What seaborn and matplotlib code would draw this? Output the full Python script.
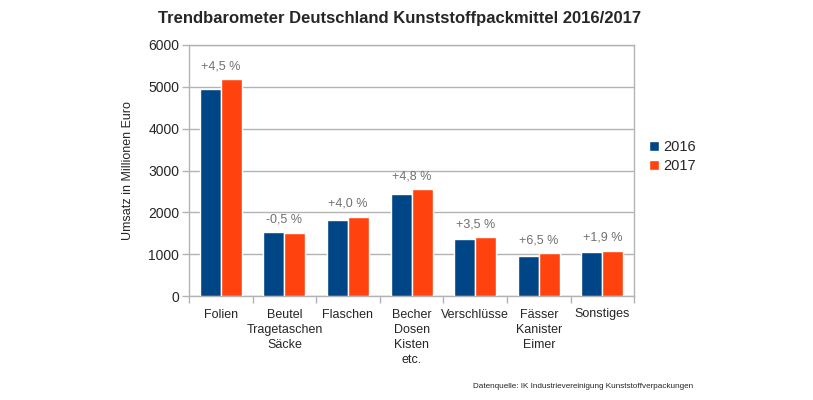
import numpy as np
import pandas as pd
import seaborn as sns
import matplotlib.pyplot as plt

# data
categories = ['Folien', 'Beutel\nTragetaschen\nSäcke', 'Flaschen', 'Becher\nDosen\nKisten\netc.',
              'Verschlüsse', 'Fässer\nKanister\nEimer', 'Sonstiges']
umsatz_2016 = [4960, 1525, 1820, 2440, 1355, 955, 1060]
umsatz_2017 = [5185, 1517, 1893, 2557, 1402, 1017, 1080]
changes = ['+4,5 %', '-0,5 %', '+4,0 %', '+4,8 %', '+3,5 %', '+6,5 %', '+1,9 %']

df = pd.DataFrame({
    'Kategorie': categories * 2,
    'Jahr': ['2016'] * len(categories) + ['2017'] * len(categories),
    'Umsatz': umsatz_2016 + umsatz_2017,
})

sns.set_style('white')
plt.rcParams['font.family'] = ['Liberation Sans', 'DejaVu Sans']

fig = plt.figure(figsize=(8.13, 4.0), dpi=100)
ax = fig.add_axes([0.2325, 0.26, 0.5475, 0.6275])

palette = {'2016': '#004586', '2017': '#ff420e'}
sns.barplot(data=df, x='Kategorie', y='Umsatz', hue='Jahr', palette=palette,
            width=0.66, saturation=1, ax=ax, zorder=3)

grid_col = '#b3b3b3'
ax.set_ylim(0, 6000)
ax.set_xlim(-0.5, len(categories) - 0.5)
ax.set_yticks(range(0, 6001, 1000))
ax.yaxis.grid(True, color=grid_col, linewidth=1, zorder=0)
for side in ['left', 'right', 'top', 'bottom']:
    ax.spines[side].set_visible(True)
    ax.spines[side].set_color(grid_col)
    ax.spines[side].set_linewidth(1)

ax.tick_params(axis='y', which='major', left=True, length=5, width=1, color=grid_col,
               labelsize=10, pad=2)
ax.tick_params(axis='x', which='major', length=0, labelsize=9, pad=9)
for lab in ax.get_xticklabels():
    lab.set_linespacing(1.35)
ax.set_xticks(np.arange(-0.5, len(categories), 1), minor=True)
ax.tick_params(axis='x', which='minor', bottom=True, length=5, width=1, color=grid_col)
ax.set_xlabel('')
ax.set_ylabel('Umsatz in Millionen Euro', fontsize=9, labelpad=10)

# percent change labels above each group
for i, lab in enumerate(changes):
    top = max(umsatz_2016[i], umsatz_2017[i])
    ax.annotate(lab, (i, top), xytext=(0, 5), textcoords='offset points',
                ha='center', va='bottom', fontsize=9, color='#707070')

ax.legend(title=None, loc='center left', bbox_to_anchor=(1.0, 0.555), frameon=False,
          fontsize=10.5, handlelength=0.7, handleheight=0.7, handletextpad=0.3,
          labelspacing=0.35, borderaxespad=0.6)

fig.text(400 / 813, 1 - 18 / 400, 'Trendbarometer Deutschland Kunststoffpackmittel 2016/2017',
         ha='center', va='center', fontsize=12, fontweight='bold')
fig.text(693 / 813, 1 - 387 / 400, 'Datenquelle: IK Industrievereinigung Kunststoffverpackungen',
         ha='right', va='center', fontsize=5.85)

fig.savefig('out.png', dpi=100)
